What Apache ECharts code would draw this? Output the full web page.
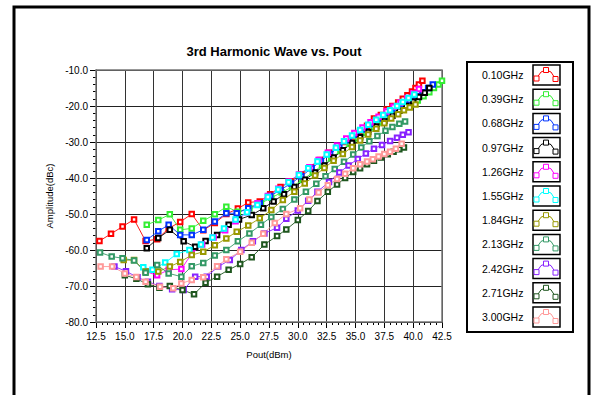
<!DOCTYPE html>
<html>
<head>
<meta charset="utf-8">
<script src="https://cdn.jsdelivr.net/npm/echarts@6/dist/echarts.min.js"></script>
<style>
  html, body { margin: 0; padding: 0; background: #fff; }
  #chart { width: 601px; height: 395px; }
</style>
</head>
<body>
<div id="chart"></div>
<script>
// Third-harmonic level versus output power, one trace per carrier frequency.
const freqLabels = ['0.10GHz', '0.39GHz', '0.68GHz', '0.97GHz', '1.26GHz', '1.55GHz',
                    '1.84GHz', '2.13GHz', '2.42GHz', '2.71GHz', '3.00GHz'];

const xTicks = { min: 12.5, max: 42.5, step: 2.5 };
const yTicks = { min: -80, max: -10, step: 10 };

// Pout (dBm) and 3rd-harmonic amplitude (dBc) per frequency
const pout_010 = [12.8, 13.8, 14.8, 15.8, 16.8, 17.8, 18.8, 19.8, 20.8, 21.8, 22.8, 23.8, 24.8, 25.7, 26.7, 27.6, 28.5, 29.4, 30.3, 31.1, 31.9, 32.7, 33.4, 34.1, 34.8, 35.4, 36.0, 36.6, 37.2, 37.7, 38.2, 38.7, 39.1, 39.5, 39.9, 40.2, 40.5, 40.8];
const amp_010  = [-57.5, -55.5, -53.5, -51.5, -57.5, -57.0, -54.0, -52.2, -50.0, -54.5, -52.5, -50.0, -48.5, -46.8, -46.5, -44.5, -42.5, -41.0, -39.0, -37.0, -35.0, -33.0, -31.5, -30.0, -28.5, -27.0, -25.5, -23.5, -22.5, -21.0, -20.0, -19.0, -18.0, -17.0, -16.0, -15.0, -14.0, -13.0];

const pout_039 = [16.9, 17.9, 18.9, 19.8, 20.8, 21.8, 22.8, 23.8, 24.8, 25.8, 26.8, 27.7, 28.6, 29.5, 30.4, 31.3, 32.1, 32.9, 33.7, 34.5, 35.2, 35.9, 36.6, 37.3, 38.0, 38.6, 39.2, 39.8, 40.4, 40.9, 41.4, 41.8, 42.2, 42.5];
const amp_039  = [-53.0, -51.7, -50.1, -54.4, -54.0, -51.9, -50.1, -48.0, -49.4, -48.4, -47.0, -45.5, -44.0, -42.5, -40.5, -38.5, -36.5, -34.5, -32.5, -30.5, -29.0, -27.5, -26.0, -24.5, -23.0, -21.8, -20.5, -19.5, -18.5, -17.3, -16.2, -15.0, -14.0, -13.0];

const pout_068 = [16.9, 17.9, 18.8, 19.8, 20.8, 21.8, 22.8, 23.8, 24.7, 25.7, 26.7, 27.6, 28.5, 29.4, 30.3, 31.2, 32.0, 32.8, 33.6, 34.4, 35.1, 35.8, 36.5, 37.2, 37.9, 38.5, 39.1, 39.7, 40.3, 40.8, 41.3, 41.7];
const amp_068  = [-57.2, -54.8, -53.0, -55.8, -55.8, -54.4, -52.1, -49.8, -49.8, -48.4, -47.0, -45.0, -43.3, -41.5, -39.5, -37.3, -35.3, -33.3, -31.3, -29.5, -28.0, -26.5, -25.0, -23.5, -22.0, -20.8, -19.5, -18.5, -17.3, -16.2, -15.0, -14.0];

const pout_097 = [16.9, 17.9, 18.9, 20.1, 21.1, 22.0, 23.0, 24.0, 24.9, 26.0, 27.0, 27.9, 28.8, 29.7, 30.6, 31.5, 32.3, 33.1, 33.9, 34.7, 35.4, 36.1, 36.8, 37.5, 38.2, 38.8, 39.4, 40.0, 40.5, 41.0, 41.4];
const amp_097  = [-59.5, -56.7, -54.4, -57.6, -59.1, -57.5, -55.8, -53.0, -51.5, -50.3, -48.4, -46.5, -44.5, -42.5, -40.5, -38.5, -36.5, -34.3, -32.3, -30.3, -28.7, -27.2, -25.7, -24.2, -22.7, -21.3, -20.0, -18.8, -17.5, -16.3, -15.0];

const pout_126 = [16.8, 17.8, 18.8, 19.9, 20.8, 21.7, 22.7, 23.7, 24.6, 25.6, 26.5, 27.4, 28.3, 29.2, 30.1, 31.0, 31.8, 32.6, 33.4, 34.2, 34.9, 35.6, 36.3, 37.0, 37.7, 38.3, 38.9, 39.5, 40.0, 40.5];
const amp_126  = [-66.0, -67.0, -65.5, -65.3, -61.0, -58.5, -56.5, -54.5, -52.0, -49.5, -47.0, -45.0, -43.0, -41.0, -39.0, -37.0, -35.0, -33.0, -31.0, -29.0, -27.5, -26.0, -24.5, -23.0, -21.5, -20.2, -19.0, -17.8, -16.5, -15.3];

const pout_155 = [16.6, 17.4, 18.5, 19.5, 20.6, 21.6, 22.6, 23.6, 24.6, 25.6, 26.5, 27.4, 28.3, 29.2, 30.1, 30.9, 31.7, 32.5, 33.3, 34.0, 34.7, 35.4, 36.1, 36.8, 37.4, 38.0, 38.6, 39.1, 39.6, 40.1];
const amp_155  = [-64.8, -65.5, -63.5, -61.1, -60.0, -58.5, -56.5, -54.0, -51.5, -49.5, -47.5, -45.3, -43.2, -41.2, -39.2, -37.3, -35.4, -33.5, -31.6, -29.8, -28.2, -26.7, -25.2, -23.8, -22.5, -21.2, -20.0, -18.9, -17.8, -16.8];

const pout_184 = [14.9, 15.8, 16.8, 17.9, 18.9, 19.8, 20.8, 21.8, 22.8, 23.8, 24.7, 25.7, 26.7, 27.7, 28.7, 29.7, 30.6, 31.5, 32.3, 33.1, 33.9, 34.7, 35.4, 36.1, 36.8, 37.5, 38.1, 38.7, 39.2, 39.7, 40.2];
const amp_184  = [-62.8, -62.8, -66.0, -66.0, -64.6, -63.3, -61.4, -60.5, -58.7, -56.8, -54.9, -53.2, -51.2, -48.9, -46.1, -43.8, -41.5, -39.3, -37.2, -35.2, -33.3, -31.4, -29.6, -27.9, -26.3, -24.8, -23.5, -22.3, -21.2, -20.4, -19.6];

const pout_213 = [12.85, 13.86, 14.8, 15.8, 16.8, 17.8, 18.8, 19.9, 20.8, 21.8, 22.8, 23.8, 24.8, 25.8, 26.8, 27.7, 28.7, 29.7, 30.7, 31.6, 32.4, 33.2, 34.0, 34.8, 35.5, 36.2, 36.9, 37.6, 38.2, 38.8, 39.3];
const amp_213  = [-60.7, -61.8, -62.3, -62.9, -66.3, -64.2, -66.5, -67.4, -64.5, -63.6, -61.5, -60.0, -57.6, -55.4, -53.0, -50.8, -48.6, -46.0, -43.8, -41.6, -39.5, -37.5, -35.5, -33.5, -31.5, -29.8, -28.3, -26.9, -25.8, -24.9, -24.3];

const pout_242 = [14.1, 15.1, 16.1, 17.0, 18.0, 19.1, 20.1, 21.1, 22.1, 23.1, 24.1, 25.1, 26.1, 27.1, 28.2, 29.0, 30.0, 30.9, 31.7, 32.7, 33.6, 34.4, 35.2, 35.9, 36.6, 37.3, 38.0, 38.6, 39.1, 39.6];
const amp_242  = [-64.6, -65.9, -67.6, -68.8, -70.0, -70.9, -71.1, -67.4, -67.4, -64.6, -62.8, -60.0, -57.6, -55.4, -53.8, -51.3, -49.0, -46.3, -43.8, -41.1, -38.5, -36.5, -34.7, -33.2, -31.9, -30.8, -29.7, -28.8, -28.0, -27.3];

const pout_271 = [15.0, 16.0, 17.0, 18.0, 18.9, 20.0, 21.0, 22.0, 23.0, 24.0, 25.0, 26.0, 27.1, 28.2, 29.0, 30.0, 30.9, 31.7, 32.6, 33.4, 34.1, 34.8, 35.4, 36.0, 36.6, 37.2, 37.8, 38.3, 38.8, 39.2];
const amp_271  = [-67.0, -68.0, -69.5, -70.5, -70.0, -71.1, -72.3, -69.1, -67.4, -65.5, -63.9, -62.0, -58.5, -56.1, -54.3, -51.7, -49.2, -46.4, -43.8, -41.8, -40.0, -38.3, -37.3, -36.2, -35.2, -34.3, -33.4, -32.7, -32.0, -31.5];

const pout_300 = [12.9, 13.9, 15.0, 16.0, 16.8, 18.05, 19.2, 19.9, 20.8, 21.8, 23.0, 23.8, 25.0, 26.0, 27.0, 28.0, 29.0, 30.2, 31.0, 31.8, 32.6, 33.4, 34.1, 34.8, 35.4, 36.0, 36.5, 37.0, 37.5, 38.0, 38.5, 39.0];
const amp_300  = [-64.6, -64.6, -66.5, -67.5, -68.8, -70.2, -70.6, -69.3, -68.3, -67.6, -64.5, -62.6, -60.5, -58.0, -55.5, -52.5, -50.0, -48.4, -46.0, -44.0, -42.0, -40.3, -38.8, -37.3, -36.2, -35.4, -34.8, -34.0, -33.3, -32.7, -31.9, -30.5];

const poutSets = [pout_010, pout_039, pout_068, pout_097, pout_126, pout_155, pout_184, pout_213, pout_242, pout_271, pout_300];
const ampSets  = [amp_010, amp_039, amp_068, amp_097, amp_126, amp_155, amp_184, amp_213, amp_242, amp_271, amp_300];

const traceColors = ['#ff0000', '#33ee33', '#0033ff', '#000000', '#ff00ff', '#00ffff',
                     '#999900', '#339966', '#8822ff', '#1e561e', '#ff9999'];

const FONT = '"Liberation Sans", Arial, sans-serif';

const chart = echarts.init(document.getElementById('chart'), null, { renderer: 'svg' });

const series = freqLabels.map((name, i) => ({
  name: name,
  type: 'line',
  data: poutSets[i].map((p, k) => [p, ampSets[i][k]]),
  symbol: 'emptyRect',
  symbolSize: 4.5,
  lineStyle: { color: traceColors[i], width: 0.9 },
  itemStyle: { color: traceColors[i], borderColor: traceColors[i], borderWidth: 0.9 },
  animation: false,
  z: 3
}));

// Legend panel on the right: label plus a small swatch box per trace
const legendTop = 75, legendStep = 24.2;
const legendElems = [{
  type: 'rect',
  shape: { x: 467, y: 62, width: 106, height: 270 },
  style: { fill: '#fff', stroke: '#000', lineWidth: 2 },
  z: 1
}];
freqLabels.forEach((name, i) => {
  const cy = legendTop + i * legendStep;
  const c = traceColors[i];
  const bx = 533, by = cy - 10;
  legendElems.push({
    type: 'text',
    style: { text: name, x: 482, y: cy, fill: '#000', font: '10.5px ' + FONT, textVerticalAlign: 'middle' },
    z: 2
  });
  legendElems.push({
    type: 'rect',
    shape: { x: bx, y: by, width: 27, height: 20 },
    style: { fill: '#fff', stroke: '#000', lineWidth: 1.5 },
    z: 2
  });
  legendElems.push({
    type: 'polyline',
    shape: { points: [[bx + 3.5, by + 13.5], [bx + 8, by + 7], [bx + 13, by + 5], [bx + 18, by + 7], [bx + 22.5, by + 14]] },
    style: { stroke: c, lineWidth: 1, fill: null },
    z: 3
  });
  [[bx + 3.5, by + 13.5], [bx + 13, by + 5], [bx + 22.5, by + 14]].forEach(pt => {
    legendElems.push({
      type: 'rect',
      shape: { x: pt[0] - 2.5, y: pt[1] - 2.5, width: 5, height: 5 },
      style: { fill: '#fff', stroke: c, lineWidth: 1 },
      z: 4
    });
  });
});

const option = {
  backgroundColor: '#fff',
  animation: false,
  title: {
    text: '3rd Harmonic Wave vs. Pout',
    left: 269,
    top: 40,
    textAlign: 'center',
    textStyle: { fontFamily: FONT, fontWeight: 'bold', fontSize: 13, color: '#000' }
  },
  grid: { left: 96, top: 70, width: 346, height: 252, containLabel: false },
  xAxis: {
    type: 'value',
    min: xTicks.min, max: xTicks.max, interval: xTicks.step,
    name: 'Pout(dBm)', nameLocation: 'middle', nameGap: 27,
    nameTextStyle: { fontFamily: FONT, fontSize: 9.5, color: '#000' },
    axisLine: { onZero: false, lineStyle: { color: '#000', width: 1 } },
    axisTick: { show: true, length: 6, lineStyle: { color: '#000' } },
    minorTick: { show: true, splitNumber: 5, length: 3, lineStyle: { color: '#000' } },
    axisLabel: { fontFamily: FONT, fontSize: 10, color: '#000', margin: 9,
                 formatter: v => v.toFixed(1) },
    splitLine: { show: true, lineStyle: { color: '#333', width: 1 } }
  },
  yAxis: {
    type: 'value',
    min: yTicks.min, max: yTicks.max, interval: yTicks.step,
    name: 'Amplitude(dBc)', nameLocation: 'middle', nameGap: 36,
    nameTextStyle: { fontFamily: FONT, fontSize: 9.5, color: '#000' },
    axisLine: { onZero: false, lineStyle: { color: '#000', width: 1 } },
    axisTick: { show: true, length: 6, lineStyle: { color: '#000' } },
    minorTick: { show: true, splitNumber: 5, length: 3, lineStyle: { color: '#000' } },
    axisLabel: { fontFamily: FONT, fontSize: 10, color: '#000', margin: 8,
                 formatter: v => v.toFixed(1) },
    splitLine: { show: true, lineStyle: { color: '#222', width: 1 } }
  },
  graphic: [
    {
      type: 'rect',
      shape: { x: 14, y: 7, width: 575, height: 400 },
      style: { fill: null, stroke: '#000', lineWidth: 3 },
      z: 0, silent: true
    },
    {
      type: 'rect',
      shape: { x: 96, y: 70, width: 346, height: 252 },
      style: { fill: null, stroke: '#777', lineWidth: 1.5 },
      z: 1, silent: true
    },
    ...legendElems
  ],
  series: series
};

chart.setOption(option);
</script>
</body>
</html>
